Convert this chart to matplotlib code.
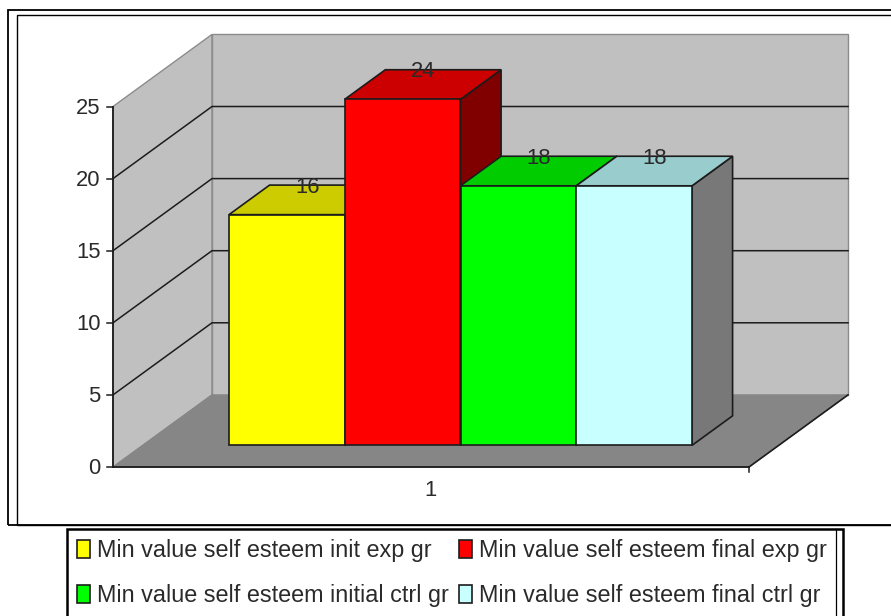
import matplotlib
matplotlib.use("Agg")
import matplotlib.pyplot as plt
from matplotlib.lines import Line2D
from matplotlib.patches import Patch, Polygon, Rectangle

plt.rcParams['font.family'] = ['Liberation Sans', 'DejaVu Sans']

series = ["Min value self esteem init exp gr", "Min value self esteem final exp gr",
          "Min value self esteem initial ctrl gr", "Min value self esteem final ctrl gr"]
values = [16, 24, 18, 18]
front_colors = ["#FFFF00", "#FF0000", "#00FF00", "#C8FFFF"]
top_colors = ["#CCCC00", "#CC0000", "#00CC00", "#99CCCC"]
side_colors = ["#808000", "#800000", "#008000", "#787878"]
y_ticks = [0, 5, 10, 15, 20, 25]
category = "1"

W, H = 891, 616
X0, X1 = 113, 749      # floor front edge, pixels
Y0, Y25 = 467, 106.5   # value axis, pixels
DARK = "#1c1c1c"
GREY = "#8c8c8c"
TEXT = "#2a2a2a"

px_x = X1 - X0
px_y = (Y0 - Y25) / 25
depth_x = 99 / px_x    # whole depth in x units
depth_y = 5.0          # whole depth in value units
bar_w = 115.75 / px_x
gap = 86.3 / px_x
d_front, d_back = 0.3, 0.71


def proj(x, y, d=0.0):
    return (x + d * depth_x, y + d * depth_y)


fig = plt.figure(figsize=(W / 100, H / 100), dpi=100, facecolor="white")
ax = fig.add_axes([0, 0, 1, 1])
ax.set_xlim(-X0 / px_x, (W - X0) / px_x)
ax.set_ylim(-(H - Y0) / px_y, Y0 / px_y)
ax.axis("off")


def poly(pts, face, edge=DARK, lw=1.2, z=2):
    ax.add_patch(Polygon(pts, closed=True, facecolor=face, edgecolor=edge, linewidth=lw,
                         joinstyle="miter", zorder=z))


top = y_ticks[-1]
# walls and floor
poly([proj(0, 0), proj(0, top), proj(0, top, 1), proj(0, 0, 1)], "#C0C0C0", GREY, 1.0, 1)
poly([proj(0, 0, 1), proj(0, top, 1), proj(1, top, 1), proj(1, 0, 1)], "#C0C0C0", GREY, 1.0, 1)
poly([proj(0, 0), proj(1, 0), proj(1, 0, 1), proj(0, 0, 1)], "#868686", "#868686", 0.8, 1)

# gridlines, side wall then back wall
for t in y_ticks[1:-1]:
    pts = [proj(0, t), proj(0, t, 1), proj(1, t, 1)]
    ax.plot([p[0] for p in pts], [p[1] for p in pts], color=DARK, lw=1.1, zorder=1.5)

# axis lines and tick marks
ax.plot([0, 0], [0, top], color=DARK, lw=1.3, zorder=1.6)
ax.plot([0, 1], [0, 0], color=DARK, lw=1.3, zorder=1.6)
ax.plot([1, proj(1, 0, 1)[0]], [0, proj(1, 0, 1)[1]], color=DARK, lw=1.2, zorder=1.6)
ax.plot([1, 1], [0, -5 / px_y], color=DARK, lw=1.1, zorder=1.6)
for t in y_ticks:
    ax.plot([-6 / px_x, 0], [t, t], color=DARK, lw=1.1, zorder=1.6)
    ax.text(-12.5 / px_x, t - 1.5 / px_y, str(t), ha="right", va="center", fontsize=15.8, color=TEXT)
ax.text(0.5, -23.5 / px_y, category, ha="center", va="center", fontsize=15.8, color=TEXT)

# bars
for i, v in enumerate(values):
    x0 = gap + i * bar_w
    x1 = x0 + bar_w
    poly([proj(x1, 0, d_front), proj(x1, v, d_front), proj(x1, v, d_back), proj(x1, 0, d_back)],
         side_colors[i], z=3 + i)
    poly([proj(x0, v, d_front), proj(x1, v, d_front), proj(x1, v, d_back), proj(x0, v, d_back)],
         top_colors[i], z=3 + i)
    poly([proj(x0, 0, d_front), proj(x1, 0, d_front), proj(x1, v, d_front), proj(x0, v, d_front)],
         front_colors[i], z=3 + i)
    lx = proj((x0 + x1) / 2, v, (d_front + d_back) / 2)[0]
    ly = proj(0, v, d_back)[1] - 2 / px_y
    ax.text(lx, ly, str(v), ha="center", va="center", fontsize=15.8, color=TEXT, zorder=10)


def frame(x0, y0, x1, y1, lw):
    fig.add_artist(Rectangle((x0 / W, 1 - y1 / H), (x1 - x0) / W, (y1 - y0) / H,
                             transform=fig.transFigure, fill=False, edgecolor="black", linewidth=lw))


# chart frame runs off the right edge
frame(8, 10, W + 10, 525, 1.3)
frame(17, 15, W + 10, 525, 1.0)
# legend frame runs off the bottom edge
frame(67, 529, 843, H + 10, 1.8)
fig.add_artist(Line2D([836 / W, 836 / W], [1 - 529 / H, 0], color="black", linewidth=0.9))

# legend fills columns first, reference reads across the rows
order = [0, 2, 1, 3]
handles = [Patch(facecolor=front_colors[i], edgecolor=DARK, linewidth=1.2) for i in order]
labels = [series[i] for i in order]
fig.legend(handles, labels, ncols=2, frameon=False, fontsize=16.8,
           loc="upper left", bbox_to_anchor=(77 / W, 1 - 539 / H), borderpad=0, borderaxespad=0,
           handlelength=0.56, handleheight=0.77, handletextpad=0.3, columnspacing=0.43,
           labelspacing=0.94, labelcolor=TEXT)

fig.savefig("out.png", dpi=100)
